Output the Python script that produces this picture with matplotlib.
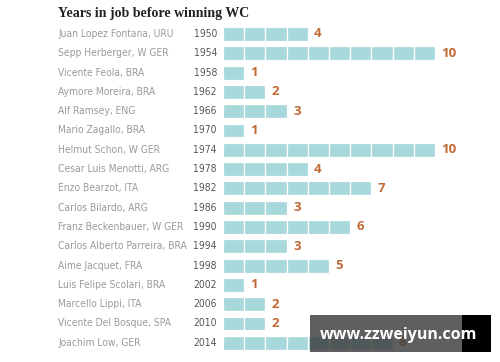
import matplotlib
matplotlib.use("Agg")
import matplotlib.pyplot as plt
from matplotlib.patches import Rectangle
from matplotlib.transforms import blended_transform_factory

title = "Years in job before winning WC"
coaches = [
    "Juan Lopez Fontana, URU",
    "Sepp Herberger, W GER",
    "Vicente Feola, BRA",
    "Aymore Moreira, BRA",
    "Alf Ramsey, ENG",
    "Mario Zagallo, BRA",
    "Helmut Schon, W GER",
    "Cesar Luis Menotti, ARG",
    "Enzo Bearzot, ITA",
    "Carlos Bilardo, ARG",
    "Franz Beckenbauer, W GER",
    "Carlos Alberto Parreira, BRA",
    "Aime Jacquet, FRA",
    "Luis Felipe Scolari, BRA",
    "Marcello Lippi, ITA",
    "Vicente Del Bosque, SPA",
    "Joachim Low, GER",
]
years = [1950, 1954, 1958, 1962, 1966, 1970, 1974, 1978, 1982, 1986,
         1990, 1994, 1998, 2002, 2006, 2010, 2014]
tenure = [4, 10, 1, 2, 3, 1, 10, 4, 7, 3, 6, 3, 5, 1, 2, 2, 8]

bar_color = "#a7d8dc"
value_color = "#c06a36"
name_color = "#9a9a9a"
year_color = "#555555"

W, H = 500, 362
fig = plt.figure(figsize=(W / 100, H / 100), dpi=100)
fig.patch.set_facecolor("white")

# axes: bars start at x=223px, one unit ~21.2px; rows ~19.3px apart from y=34px
unit = 21.2
row = 19.3
ax = fig.add_axes([223 / W, 0, 1 - 223 / W, 1])
ax.set_xlim(0, (W - 223) / unit)
ax.set_ylim((H - 34) / row, -34 / row)
ax.axis("off")

n = len(coaches)
ypos = list(range(n))
for k in range(max(tenure)):
    ys = [y for y, v in zip(ypos, tenure) if v > k]
    ax.barh(ys, 1, left=k, height=0.72, color=bar_color,
            edgecolor="white", linewidth=0.9)

for y, v in zip(ypos, tenure):
    ax.text(v + 0.3, y, str(v), color=value_color, fontsize=9.5,
            fontweight="bold", va="center", ha="left",
            family=["Open Sans", "DejaVu Sans"])

tr = blended_transform_factory(fig.transFigure, ax.transData)
label_font = dict(family="DejaVu Sans", fontstretch="condensed", fontsize=7.4)
for y, name, yr in zip(ypos, coaches, years):
    ax.text(58 / W, y, name, transform=tr, color=name_color,
            va="center", ha="left", clip_on=False, **label_font)
    ax.text(217 / W, y, str(yr), transform=tr, color=year_color,
            va="center", ha="right", clip_on=False, **label_font)

fig.text(58 / W, 1 - 13 / H, title, fontsize=10, fontweight="bold",
         color="#222222", va="center", ha="left",
         family=["Liberation Serif", "DejaVu Serif"])

# watermark overlay
fig.patches.append(Rectangle((310 / W, 1 - 352 / H), 152 / W, 37 / H,
                             transform=fig.transFigure, facecolor="#3c3c3c",
                             alpha=0.82, edgecolor="none", zorder=5))
fig.patches.append(Rectangle((462 / W, 1 - 352 / H), 29 / W, 37 / H,
                             transform=fig.transFigure, facecolor="black",
                             edgecolor="none", zorder=5))
fig.text(320 / W, 1 - 335 / H, "www.zzweiyun.com", fontsize=11.5,
         fontweight="bold", color="white", va="center", ha="left", zorder=6,
         family=["Open Sans", "DejaVu Sans"])

fig.savefig("out.png", dpi=100)
plt.close(fig)
